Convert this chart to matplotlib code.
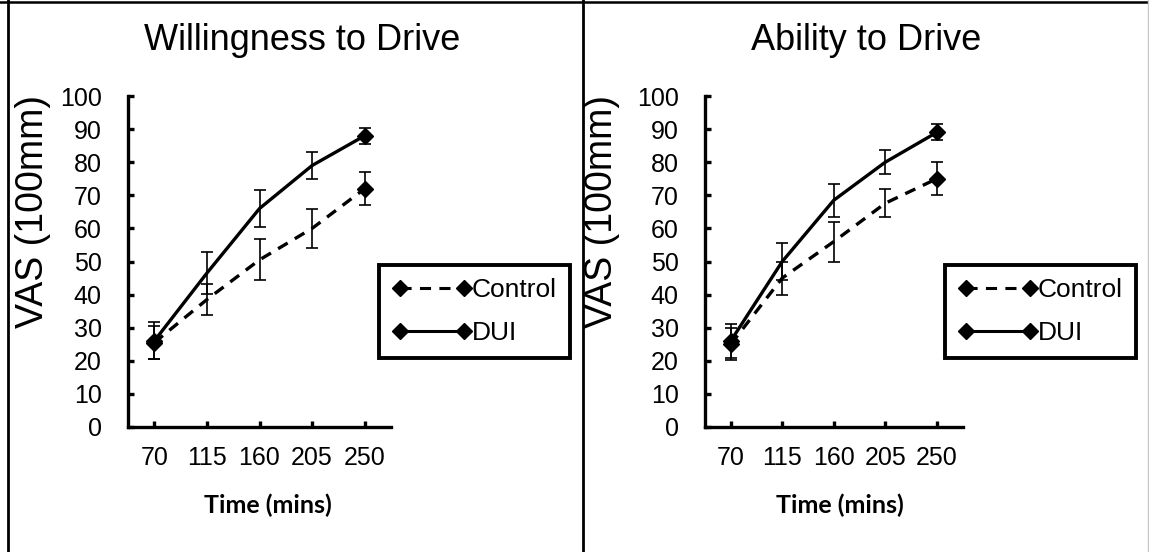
import matplotlib
matplotlib.use("Agg")
import matplotlib.pyplot as plt
from matplotlib.lines import Line2D

plt.rcParams['font.family'] = ['Liberation Sans', 'DejaVu Sans']
plt.rcParams['lines.scale_dashes'] = False

times = ['70', '115', '160', '205', '250']

will_control = [25.5, 38.5, 50.5, 60, 72]
will_control_err = [5, 4.8, 6.2, 6, 5]
will_dui = [26, 46.5, 66, 79, 88]
will_dui_err = [5.6, 6.3, 5.5, 4, 2.4]

abil_control = [25, 45, 56, 67.6, 75]
abil_control_err = [4.8, 5, 6, 4.2, 5]
abil_dui = [26, 50, 68.5, 80, 89]
abil_dui_err = [5.2, 5.5, 5, 3.7, 2.4]

titles = ['Willingness to Drive', 'Ability to Drive']

W, H = 1149, 552
fig = plt.figure(figsize=(W / 100, H / 100), dpi=100)


def px(x0, y0, w, h):
    return [x0 / W, 1 - (y0 + h) / H, w / W, h / H]


DASH = (0, (8, 6))


def panel(rect, ctrl, ctrl_err, dui, dui_err):
    ax = fig.add_axes(rect)
    x = list(range(len(times)))
    ax.errorbar(x, ctrl, yerr=ctrl_err, fmt='none', ecolor='black',
                elinewidth=1.2, capsize=4.2, capthick=1.2, zorder=3)
    ax.errorbar(x, dui, yerr=dui_err, fmt='none', ecolor='black',
                elinewidth=1.2, capsize=4.2, capthick=1.2, zorder=3)
    ax.plot(x, ctrl, color='black', lw=2.4, linestyle=DASH, marker='D',
            ms=8, markevery=[0, 4], zorder=2)
    ax.plot(x, dui, color='black', lw=2.4, marker='D', ms=8,
            markevery=[0, 4], zorder=2)
    ax.set_xlim(-0.5, 4.5)
    ax.set_ylim(0, 100)
    ax.set_xticks(x)
    ax.set_xticklabels(times)
    ax.set_yticks(range(0, 101, 10))
    for s in ['top', 'right']:
        ax.spines[s].set_visible(False)
    for s in ['left', 'bottom']:
        ax.spines[s].set_linewidth(2.4)
    ax.tick_params(axis='both', direction='in', length=4, width=2.4,
                   labelsize=18)
    ax.tick_params(axis='y', pad=19)
    ax.tick_params(axis='x', pad=14)
    handles = [
        Line2D([], [], color='black', lw=2.2, linestyle=DASH, marker='D', ms=8),
        Line2D([], [], color='black', lw=2.2, marker='D', ms=8),
    ]
    return ax, handles


ax1, h1 = panel(px(128, 96, 263, 331), will_control, will_control_err,
                will_dui, will_dui_err)
ax2, h2 = panel(px(705, 96, 257.5, 331), abil_control, abil_control_err,
                abil_dui, abil_dui_err)

for ax, h, cx in [(ax1, h1, 474.5), (ax2, h2, 1040.5)]:
    leg = ax.legend(h, ['Control', 'DUI'], loc='center',
                    bbox_to_anchor=(cx / W, 1 - 311.5 / H),
                    bbox_transform=fig.transFigure, fontsize=19,
                    numpoints=2, handlelength=3.0, handletextpad=0.0,
                    labelspacing=0.7, borderpad=0.5, borderaxespad=0,
                    fancybox=False, framealpha=1, edgecolor='black')
    leg.get_frame().set_linewidth(2.8)

fig.text(302 / W, 1 - 40 / H, titles[0], ha='center', va='center', fontsize=26)
fig.text(866 / W, 1 - 40 / H, titles[1], ha='center', va='center', fontsize=26)

for xc in [33, 602]:
    fig.text(xc / W, 1 - 212 / H, 'VAS (100mm)', rotation=90,
             ha='center', va='center', fontsize=27)

for xc in [268, 840]:
    fig.text(xc / W, 1 - 505 / H, 'Time (mins)', ha='center', va='center',
             fontsize=18, fontweight='bold', family=['Lato', 'DejaVu Sans'])

# panel borders
fig.add_artist(Line2D([0, 1], [1 - 1.5 / H, 1 - 1.5 / H], color='black',
                      lw=1.8, transform=fig.transFigure))
for xv in [7.5, 583]:
    fig.add_artist(Line2D([xv / W, xv / W], [0, 1], color='black', lw=2,
                          transform=fig.transFigure))
fig.add_artist(Line2D([1148 / W, 1148 / W], [0, 1], color='#c8c8c8', lw=1,
                      transform=fig.transFigure))

fig.savefig('out.png', dpi=100)
